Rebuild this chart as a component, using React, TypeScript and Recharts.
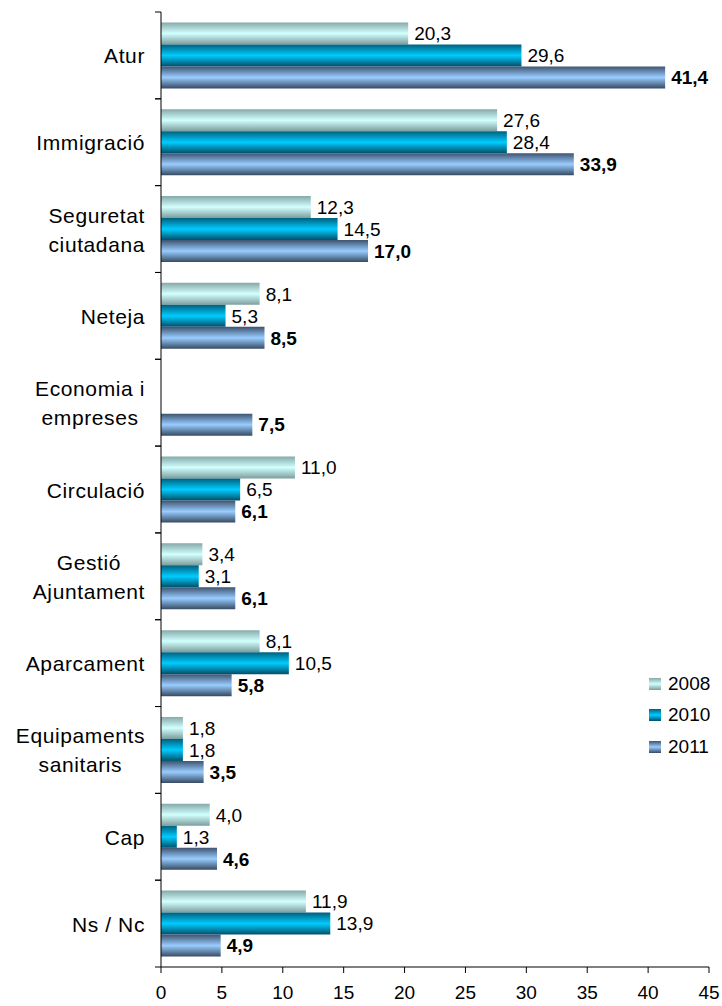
import { BarChart, Bar, XAxis, YAxis, LabelList } from "recharts";

const categories = [
  "Atur",
  "Immigració",
  "Seguretat\nciutadana",
  "Neteja",
  "Economia i\nempreses",
  "Circulació",
  "Gestió\nAjuntament",
  "Aparcament",
  "Equipaments\nsanitaris",
  "Cap",
  "Ns / Nc",
];
const values2008 = [20.3, 27.6, 12.3, 8.1, null, 11.0, 3.4, 8.1, 1.8, 4.0, 11.9];
const values2010 = [29.6, 28.4, 14.5, 5.3, null, 6.5, 3.1, 10.5, 1.8, 1.3, 13.9];
const values2011 = [41.4, 33.9, 17.0, 8.5, 7.5, 6.1, 6.1, 5.8, 3.5, 4.6, 4.9];
const xTicks = [0, 5, 10, 15, 20, 25, 30, 35, 40, 45];

const data = categories.map((name, i) => ({
  name,
  y2008: values2008[i],
  y2010: values2010[i],
  y2011: values2011[i],
}));

const FONT = "'Liberation Sans', Arial, sans-serif";
const fmt = (v: any) => (v == null ? "" : Number(v).toFixed(1).replace(".", ","));

const series = [
  { key: "y2008", label: "2008", grad: "g2008", stops: ["#86a9a9", "#d2ffff", "#7c9c9c"], bold: false },
  { key: "y2010", label: "2010", grad: "g2010", stops: ["#00607e", "#00ccff", "#004f68"], bold: false },
  { key: "y2011", label: "2011", grad: "g2011", stops: ["#3d5470", "#99ccff", "#364a62"], bold: true },
];

const BAND = (967 - 12) / categories.length;
const CAT_SIZE = 21;
const CAT_SPACING = 0.6;

let ctx: CanvasRenderingContext2D | null = null;
function textWidth(s: string) {
  if (!ctx) {
    ctx = document.createElement("canvas").getContext("2d");
  }
  if (!ctx) return s.length * CAT_SIZE * 0.5;
  ctx.font = `${CAT_SIZE}px 'Liberation Sans'`;
  return ctx.measureText(s).width + s.length * CAT_SPACING;
}

function CategoryTick(props: any) {
  const { x, y, payload } = props;
  const lines = String(payload.value).split("\n");
  const lh = 29;
  const start = y - ((lines.length - 1) * lh) / 2;
  const right = x - 8;
  const maxW = Math.max(...lines.map(textWidth));
  const cx = right - maxW / 2;
  return (
    <g>
      <line x1={x + 2} x2={x + 8} y1={y - BAND / 2} y2={y - BAND / 2} stroke="#000" />
      <line x1={x + 2} x2={x + 8} y1={y + BAND / 2} y2={y + BAND / 2} stroke="#000" />
      <text
        x={cx}
        y={start}
        textAnchor="middle"
        dominantBaseline="central"
        fontSize={CAT_SIZE}
        letterSpacing={CAT_SPACING}
        fontFamily={FONT}
        fill="#000"
      >
        {lines.map((l, i) => (
          <tspan key={i} x={cx} y={start + i * lh}>
            {l}
          </tspan>
        ))}
      </text>
    </g>
  );
}

function Legend() {
  return (
    <div style={{ position: "absolute", left: 649, top: 668, fontFamily: FONT, fontSize: 19 }}>
      {series.map((s) => (
        <div key={s.key} style={{ display: "flex", alignItems: "center", height: 31.5 }}>
          <div
            style={{
              width: 12,
              height: 12,
              marginRight: 7,
              background: `linear-gradient(to bottom, ${s.stops[0]}, ${s.stops[1]} 50%, ${s.stops[2]})`,
            }}
          />
          <span>{s.label}</span>
        </div>
      ))}
    </div>
  );
}

export default function App() {
  return (
    <div style={{ position: "relative", width: 722, height: 1006, background: "#fff" }}>
      <style>{`body{margin:0}`}</style>
      <BarChart
        width={722}
        height={1006}
        data={data}
        layout="vertical"
        margin={{ top: 12, right: 13, left: 0, bottom: 0 }}
        barCategoryGap="12%"
        barGap={0}
      >
        <defs>
          {series.map((s) => (
            <linearGradient key={s.grad} id={s.grad} x1="0" y1="0" x2="0" y2="1">
              <stop offset="0%" stopColor={s.stops[0]} />
              <stop offset="50%" stopColor={s.stops[1]} />
              <stop offset="100%" stopColor={s.stops[2]} />
            </linearGradient>
          ))}
        </defs>
        <XAxis
          type="number"
          domain={[0, 45]}
          ticks={xTicks}
          interval={0}
          height={39}
          axisLine={{ stroke: "#000" }}
          tickLine={{ stroke: "#000" }}
          tickSize={6}
          tick={{ fontSize: 19, fontFamily: FONT, fill: "#000" }}
          tickMargin={13}
        />
        <YAxis
          type="category"
          dataKey="name"
          width={161}
          axisLine={{ stroke: "#000" }}
          tickLine={false}
          tick={<CategoryTick />}
          interval={0}
        />
        {series.map((s) => (
          <Bar key={s.key} dataKey={s.key} fill={`url(#${s.grad})`} isAnimationActive={false}>
            <LabelList
              dataKey={s.key}
              position="right"
              offset={6}
              formatter={fmt}
              style={{ fontSize: 19, fontFamily: FONT, fill: "#000", fontWeight: s.bold ? "bold" : "normal" }}
            />
          </Bar>
        ))}
      </BarChart>
      <Legend />
    </div>
  );
}
